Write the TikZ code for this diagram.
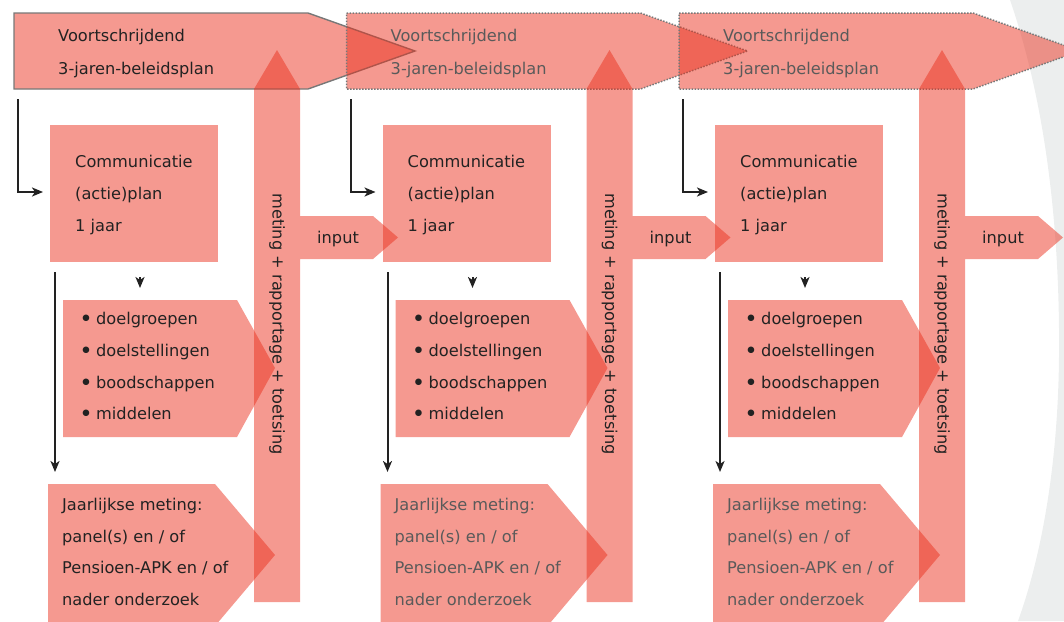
\documentclass[tikz,border=0pt]{standalone}
\usepackage{fontspec}
\setmainfont{DejaVu Sans}
\usetikzlibrary{arrows.meta}
\definecolor{salmon}{RGB}{234,47,28}
\definecolor{dtext}{RGB}{34,34,34}
\definecolor{gtext}{RGB}{90,90,90}
\definecolor{bord}{RGB}{120,120,120}
\definecolor{bggray}{RGB}{236,238,238}
\begin{document}
\begin{tikzpicture}[x=1pt,y=-1pt,
  pinkfill/.style={fill=salmon,fill opacity=0.49},
  txt/.style={anchor=base west,inner sep=0pt,font=\fontsize{16.2}{19}\selectfont,text=dtext},
  gtxt/.style={txt,text=gtext},
  bullet/.style={anchor=center,inner sep=0pt,font=\fontsize{8.5}{9}\selectfont,text=dtext},
  solidborder/.style={draw=bord,line width=1.4pt},
  dotborder/.style={draw=bord,line width=1.5pt,dash pattern=on 1.5pt off 1.5pt},
  conn/.style={draw=dtext,line width=2pt,-{Stealth[length=11pt,width=9pt,inset=3pt]}}]
\useasboundingbox (0,0) rectangle (1064,621);
\clip (0,0) rectangle (1064,621);
\fill[bggray] (1010,0) .. controls (1048,110) and (1060,240) .. (1059,356)
  .. controls (1058,470) and (1040,560) .. (1018,621) -- (1064,621) -- (1064,0) -- cycle;
\foreach \i in {0,1,2}{
\begin{scope}[xshift={332.5pt*\i}]
  % top arrow
  \ifnum\i=0
    \path[pinkfill,solidborder] (14,13) -- (308,13) -- (415,51) -- (308,89) -- (14,89) -- cycle;
    \node[txt] (topa\i) at (58,41) {Voortschrijdend};
    \node[txt] (topb\i) at (58,74) {3-jaren-beleidsplan};
  \else
    \path[pinkfill,dotborder] (14,13) -- (308,13) -- (415,51) -- (308,89) -- (14,89) -- cycle;
    \node[gtxt] (topa\i) at (58,41) {Voortschrijdend};
    \node[gtxt] (topb\i) at (58,74) {3-jaren-beleidsplan};
  \fi
  % communicatie box
  \path[pinkfill] (50,125) rectangle (218,262);
  \node[txt] (comma\i) at (75,167) {Communicatie};
  \node[txt] (commb\i) at (75,199) {(actie)plan};
  \node[txt] (commc\i) at (75,231) {1 jaar};
  % vertical meting arrow with input branch
  \path[pinkfill] (254,602) -- (254,89) -- (277,50) -- (300,89) -- (300,216)
     -- (373,216) -- (398,237.5) -- (373,259) -- (300,259) -- (300,602) -- cycle;
  \node[txt,anchor=center,rotate=-90] (meting\i) at (277,324) {meting + rapportage + toetsing};
  \node[txt] (input\i) at (317,243) {input};
  % bullet box
  \path[pinkfill] (63,300) -- (237,300) -- (275,368) -- (237,437) -- (63,437) -- cycle;
  \node[bullet] (bu1\i) at (86,318.5) {●};
  \node[bullet] (bu2\i) at (86,350.5) {●};
  \node[bullet] (bu3\i) at (86,382.5) {●};
  \node[bullet] (bu4\i) at (86,413.5) {●};
  \node[txt] (doela\i) at (96,324) {doelgroepen};
  \node[txt] (doelb\i) at (96,356) {doelstellingen};
  \node[txt] (doelc\i) at (96,388) {boodschappen};
  \node[txt] (doeld\i) at (96,419) {middelen};
  % jaarlijkse box
  \path[pinkfill] (48,484) -- (215,484) -- (275,555) -- (215,626) -- (48,626) -- cycle;
  \ifnum\i=0
    \node[txt] (jaa\i) at (62,510) {Jaarlijkse meting:};
    \node[txt] (jab\i) at (62,542) {panel(s) en / of};
    \node[txt] (jac\i) at (62,573) {Pensioen-APK en / of};
    \node[txt] (jad\i) at (62,605) {nader onderzoek};
  \else
    \node[gtxt] (jaa\i) at (62,510) {Jaarlijkse meting:};
    \node[gtxt] (jab\i) at (62,542) {panel(s) en / of};
    \node[gtxt] (jac\i) at (62,573) {Pensioen-APK en / of};
    \node[gtxt] (jad\i) at (62,605) {nader onderzoek};
  \fi
  % connectors
  \coordinate (sa\i) at (18,99);
  \coordinate (ea\i) at (43,192);
  \draw[conn] (sa\i) |- (ea\i);
  \coordinate (sb\i) at (55,272);
  \coordinate (eb\i) at (55,472);
  \draw[conn] (sb\i) -- (eb\i);
  \coordinate (sc\i) at (140,277);
  \coordinate (ec\i) at (140,288);
  \draw[conn] (sc\i) -- (ec\i);
\end{scope}
}
\end{tikzpicture}
\end{document}
